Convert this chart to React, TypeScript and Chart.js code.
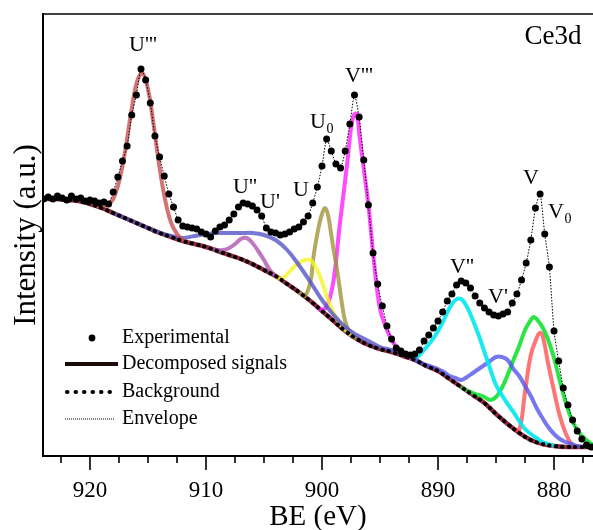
import React, { useEffect, useRef } from "react";
import { Chart, registerables } from "chart.js";

Chart.register(...registerables);

const FONT = '"Liberation Serif", "Times New Roman", serif';

// ---------- Experimental data (BE in eV, intensity a.u.) ----------
const expBE = [
  924.0, 923.6, 923.2, 922.8, 922.4, 922.0, 921.6, 921.2, 920.8, 920.4,
  920.0, 919.6, 919.2, 918.8, 918.4, 918.0, 917.6, 917.2, 916.8, 916.4,
  916.0, 915.6, 915.2, 914.8, 914.4, 914.0, 913.6, 913.2, 912.8, 912.4,
  912.0, 911.6, 911.2, 910.8, 910.4, 910.0, 909.6, 909.2, 908.8, 908.4,
  908.0, 907.6, 907.2, 906.8, 906.4, 906.0, 905.6, 905.2, 904.8, 904.4,
  904.0, 903.6, 903.2, 902.8, 902.4, 902.0, 901.6, 901.2, 900.8, 900.4,
  900.0, 899.6, 899.2, 898.8, 898.4, 898.0, 897.6, 897.2, 896.8, 896.4,
  896.0, 895.6, 895.2, 894.8, 894.4, 894.0, 893.6, 893.2, 892.8, 892.4,
  892.0, 891.6, 891.2, 890.8, 890.4, 890.0, 889.6, 889.2, 888.8, 888.4,
  888.0, 887.6, 887.2, 886.8, 886.4, 886.0, 885.6, 885.2, 884.8, 884.4,
  884.0, 883.6, 883.2, 882.8, 882.4, 882.0, 881.6, 881.2, 880.8, 880.4,
  880.0, 879.6, 879.2, 878.8, 878.4, 878.0, 877.6, 877.2, 876.8,
];
const expVal = [
  257, 259, 257, 260, 258, 256, 260, 257, 258, 255,
  256, 255, 253, 254, 252, 264, 279, 295, 310, 341,
  361, 387, 376, 353, 320, 299, 280, 262, 249, 236,
  230, 229, 228, 227, 224, 222, 219, 225, 229, 231,
  236, 242, 249, 253, 252, 250, 246, 240, 228, 224,
  223, 221, 222, 224, 227, 229, 234, 240, 253, 269,
  290, 317, 305, 292, 288, 305, 332, 361, 339, 296,
  251, 203, 172, 150, 130, 117, 108, 105, 102, 101,
  102, 106, 115, 121, 128, 135, 144, 155, 162, 171,
  175, 173, 168, 160, 153, 148, 144, 141, 140, 142,
  144, 153, 162, 176, 193, 216, 248, 262, 222, 189,
  125, 95, 68, 51, 36, 25, 17, 11, 9,
];

// ---------- Background ----------
const bgBE = [
  924, 923, 922, 921, 920, 919, 918, 917, 916, 915, 914, 913, 912, 911, 910,
  909, 908, 907, 906, 905, 904, 903, 902, 901, 900, 899, 898, 897, 896, 895,
  894, 893, 892, 891, 890, 889, 888, 887, 886, 885, 884, 883, 882, 881, 880,
  879, 878, 877, 876,
];
const bgVal = [
  257, 257, 256, 255, 252, 248, 243, 238, 233, 228, 223, 219, 215, 212, 209,
  205, 201, 197, 192, 186, 180, 172, 164, 155, 145, 135, 125, 117, 111, 107,
  104, 100, 96, 90, 85, 77, 69, 61, 53, 42, 32, 23, 16, 12, 10,
  9, 9, 9, 9,
];

// ---------- Decomposed signals (each drawn on top of the background) ----------
const u3BE = [919.5, 919, 918.5, 918, 917.5, 917, 916.5, 916, 915.5, 915, 914.5, 914, 913.5, 913, 912.5, 912, 911.5];
const u3Val = [250, 250, 251, 257, 274, 303, 340, 372, 383, 367, 330, 288, 255, 233, 222, 216, 213.5];

const u1BE = [918, 917, 916, 915, 914, 913, 912, 911, 910, 909, 908, 907, 906, 905, 904, 903, 902, 901, 900, 899, 898, 897, 896, 895, 894, 893, 892, 891];
const u1Val = [243, 238, 233, 228, 223.5, 220, 218, 220, 222, 223, 223, 223, 223, 221, 216, 206, 191, 174, 156, 141, 129, 121, 115, 109, 106, 102, 97, 90];

const u2BE = [909.5, 909, 908.5, 908, 907.5, 907, 906.5, 906, 905.5, 905, 904.5, 904];
const u2Val = [207, 206, 206, 208, 212, 217, 218, 213, 205, 196, 186, 180];

const uBE = [904, 903.5, 903, 902.5, 902, 901.5, 901, 900.5, 900, 899.5, 899, 898.5, 898, 897.5];
const uVal = [180, 177, 182, 188, 193, 196, 196, 188, 174, 157, 143, 133, 126, 121];

const u0BE = [902, 901.5, 901, 900.75, 900.5, 900.25, 900, 899.75, 899.5, 899.25, 899, 898.75, 898.5, 898.25, 898, 897.5, 897];
const u0Val = [164, 160, 174, 198, 216, 231, 242, 248, 242, 225, 206, 190, 170, 150, 135, 121, 117];

const v3BE = [900.5, 900, 899.5, 899, 898.5, 898, 897.75, 897.5, 897.25, 897, 896.75, 896.5, 896, 895.5, 895, 894.5, 894, 893.5, 893, 892.5, 892];
const v3Val = [150, 146, 152, 176, 228, 276, 301, 328, 341, 342, 318, 296, 251, 192, 147, 129, 116, 108, 103, 99, 96];

const v2BE = [892, 891.5, 891, 890.5, 890, 889.5, 889, 888.5, 888, 887.5, 887, 886.5, 886, 885.5, 885, 884.5, 884, 883.5, 883, 882.5, 882, 881.5, 881, 880.5, 880];
const v2Val = [96, 102, 109, 116, 125, 136, 148, 156, 157, 149, 136, 121, 104, 87, 71, 61, 52, 44, 35, 27, 22, 18, 14, 12, 10];

const v1BE = [892, 891.5, 891, 890.5, 890, 889.5, 889, 888.5, 888, 887.5, 887, 886.5, 886, 885.5, 885, 884.5, 884, 883.5, 883, 882.5, 882, 881.5, 881, 880.5, 880, 879.5, 879, 878.5, 878, 877.5];
const v1Val = [96, 93, 91, 89, 87, 84, 80, 78, 76, 79, 83, 87, 91, 95, 99, 99, 96, 87, 80, 70, 60, 48, 38, 29, 22, 17, 14, 12, 10, 9];

const vBE = [888, 887.5, 887, 886.5, 886, 885.5, 885, 884.5, 884, 883.5, 883, 882.5, 882, 881.75, 881.5, 881, 880.5, 880, 879.5, 879, 878.5, 878, 877.5, 877, 876.5];
const vVal = [69, 65.5, 63, 61, 59, 56, 59, 68, 81, 96, 110, 126, 136, 139, 137, 129, 116, 98, 75, 54, 37, 26, 19, 14, 10];

const v0BE = [883.5, 883, 882.5, 882, 881.5, 881.25, 881, 880.5, 880, 879.5, 879, 878.5, 878];
const v0Val = [27.5, 26, 64, 101, 118, 123, 121, 92, 65, 40, 23, 12, 9];

const componentColors = [
  "rgba(200,80,80,0.8)",    // U'''
  "rgba(85,85,200,0.8)",    // U'
  "rgba(175,85,175,0.8)",   // U''
  "rgba(245,245,40,0.8)",   // U
  "rgba(160,150,60,0.8)",   // U0
  "rgba(255,30,255,0.8)",   // V'''
  "rgba(0,232,240,0.9)",    // V''
  "rgba(85,85,235,0.8)",    // V'
  "rgba(20,225,50,0.9)",    // V
  "rgba(255,70,70,0.75)",   // V0
];

// ---------- Peak annotations ----------
const peakLabels = ["U'''", "U''", "U'", "U", "U", "V'''", "V''", "V'", "V", "V"];
const peakSubs = ["", "", "", "", "0", "", "", "", "", "0"];
const labelBE = [915.43, 906.64, 904.48, 901.81, 900.34, 896.81, 887.93, 884.83, 881.98, 879.83];
const labelVal = [411, 269, 254, 266, 334, 380, 189, 159, 278, 244];
const panelTitle = "Ce3d";

const legendLabels = ["Experimental", "Decomposed signals", "Background", "Envelope"];

function zip(xs: number[], ys: number[]) {
  return xs.map((x, i) => ({ x, y: ys[i] }));
}

const overlayPlugin = {
  id: "overlay",
  afterDraw(chart: any) {
    const { ctx, chartArea: a, scales } = chart;
    const xs = scales.x;
    const ys = scales.y;
    ctx.save();
    ctx.strokeStyle = "#000";
    ctx.fillStyle = "#000";
    ctx.lineWidth = 1.5;
    ctx.beginPath();
    ctx.moveTo(a.left, a.top);
    ctx.lineTo(a.right, a.top);
    ctx.stroke();
    ctx.lineWidth = 1.6;
    for (const t of xs.ticks) {
      const px = xs.getPixelForValue(t.value);
      const major = Math.abs(Math.round(t.value) - t.value) < 1e-6 && Math.round(t.value) % 10 === 0;
      ctx.beginPath();
      ctx.moveTo(px, a.bottom);
      ctx.lineTo(px, a.bottom + (major ? 14 : 7));
      ctx.stroke();
    }
    ctx.textAlign = "center";
    ctx.textBaseline = "middle";
    peakLabels.forEach((lab, i) => {
      const px = xs.getPixelForValue(labelBE[i]);
      const py = ys.getPixelForValue(labelVal[i]);
      ctx.font = `22px ${FONT}`;
      ctx.fillText(lab, px, py);
      if (peakSubs[i]) {
        const w = ctx.measureText(lab).width;
        ctx.font = `14px ${FONT}`;
        ctx.fillText(peakSubs[i], px + w / 2 + 4, py + 7);
      }
    });
    ctx.font = `27px ${FONT}`;
    ctx.fillText(panelTitle, a.right - 40, a.top + 23);

    const x0 = a.left + 22;
    const x1 = a.left + 75;
    const tx = a.left + 79;
    const rows = [a.top + 324, a.top + 350, a.top + 378, a.top + 405];
    ctx.textAlign = "left";
    ctx.font = `20px ${FONT}`;
    ctx.beginPath();
    ctx.arc(a.left + 49, rows[0], 3.4, 0, Math.PI * 2);
    ctx.fill();
    ctx.lineWidth = 4;
    ctx.strokeStyle = "#1a0a0a";
    ctx.beginPath();
    ctx.moveTo(x0, rows[1]);
    ctx.lineTo(x1, rows[1]);
    ctx.stroke();
    ctx.strokeStyle = "#000";
    ctx.lineCap = "round";
    ctx.setLineDash([0.5, 8]);
    ctx.beginPath();
    ctx.moveTo(x0 + 2, rows[2]);
    ctx.lineTo(x1, rows[2]);
    ctx.stroke();
    ctx.lineCap = "butt";
    ctx.lineWidth = 1;
    ctx.setLineDash([1, 1]);
    ctx.beginPath();
    ctx.moveTo(x0, rows[3]);
    ctx.lineTo(x1 - 3, rows[3]);
    ctx.stroke();
    ctx.setLineDash([]);
    legendLabels.forEach((l, i) => ctx.fillText(l, tx, rows[i]));
    ctx.restore();
  },
};

export default function App() {
  const ref = useRef<HTMLCanvasElement | null>(null);
  useEffect(() => {
    if (!ref.current) return;
    Chart.defaults.font.family = FONT;
    Chart.defaults.color = "#000";

    const comps = [
      [u3BE, u3Val], [u1BE, u1Val], [u2BE, u2Val], [uBE, uVal], [u0BE, u0Val],
      [v3BE, v3Val], [v2BE, v2Val], [v1BE, v1Val], [vBE, vVal], [v0BE, v0Val],
    ];
    const datasets: any[] = [];
    datasets.push({
      label: "bg-base",
      data: zip(bgBE, bgVal),
      borderColor: "rgb(150,40,65)",
      borderWidth: 4.5,
      pointRadius: 0,
      pointHoverRadius: 0,
      tension: 0.4,
      order: 40,
    });
    comps.forEach((c, i) => {
      datasets.push({
        label: "comp" + i,
        data: zip(c[0], c[1]),
        borderColor: componentColors[i],
        borderWidth: 4,
        pointRadius: 0,
        pointHoverRadius: 0,
        tension: 0.4,
        order: 10 + i,
      });
    });
    datasets.push({
      label: "Background",
      data: zip(bgBE, bgVal),
      borderColor: "#000",
      borderWidth: 4,
      borderDash: [0.5, 6],
      borderCapStyle: "round",
      pointRadius: 0,
      pointHoverRadius: 0,
      tension: 0.4,
      order: 3,
    });
    datasets.push({
      label: "Envelope",
      data: zip(expBE, expVal),
      borderColor: "#000",
      borderWidth: 1,
      borderDash: [1.5, 1.5],
      pointRadius: 0,
      pointHoverRadius: 0,
      tension: 0.2,
      order: 2,
    });
    datasets.push({
      label: "Experimental",
      data: zip(expBE, expVal),
      showLine: false,
      pointRadius: 3.5,
      pointHoverRadius: 3.5,
      pointBackgroundColor: "#000",
      pointBorderWidth: 0,
      order: 1,
    });

    const chart = new Chart(ref.current, {
      type: "line",
      data: { datasets },
      plugins: [overlayPlugin],
      options: {
        animation: false,
        responsive: false,
        devicePixelRatio: 1,
        events: [],
        layout: { autoPadding: false, padding: { top: 14, right: 0, left: 0, bottom: 0 } },
        plugins: { legend: { display: false }, tooltip: { enabled: false } },
        scales: {
          x: {
            type: "linear",
            reverse: true,
            min: 876.64,
            max: 924.05,
            grid: { display: false, drawTicks: false },
            border: { display: true, color: "#000", width: 2 },
            ticks: {
              stepSize: 2.5,
              includeBounds: false,
              autoSkip: false,
              maxRotation: 0,
              padding: 21,
              font: { size: 23, family: FONT },
              color: "#000",
              callback: (v: any) => {
                const n = Number(v);
                return Math.abs(n - Math.round(n)) < 1e-6 && Math.round(n) % 10 === 0 ? String(Math.round(n)) : "";
              },
            },
            title: {
              display: true,
              text: "BE (eV)",
              font: { size: 29, family: FONT, lineHeight: 1 },
              color: "#000",
              padding: { top: 0, bottom: -2 },
            },
            afterFit: (s: any) => {
              s.height = 74;
              s.paddingLeft = 0;
              s.paddingRight = 0;
            },
          },
          y: {
            type: "linear",
            min: 0,
            max: 442,
            grid: { display: false, drawTicks: false },
            border: { display: true, color: "#000", width: 2 },
            ticks: { display: false },
            title: {
              display: true,
              text: "Intensity (a.u.)",
              font: { size: 31, family: FONT, lineHeight: 1 },
              color: "#000",
              padding: { top: 11, bottom: 0 },
            },
            afterFit: (s: any) => {
              s.width = 43;
              s.paddingTop = 0;
              s.paddingBottom = 0;
            },
          },
        },
      },
    } as any);
    return () => chart.destroy();
  }, []);

  return (
    <div style={{ position: "absolute", left: 0, top: 0, width: 593, height: 530, background: "#fff" }}>
      <canvas ref={ref} width={593} height={530} style={{ width: 593, height: 530, display: "block" }} />
    </div>
  );
}
